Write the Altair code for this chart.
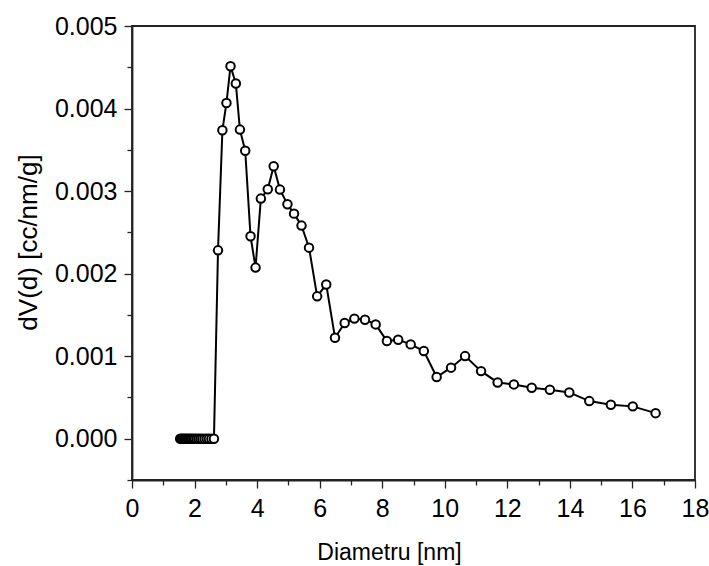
import altair as alt
import pandas as pd

# zero-valued points at small diameters
diam_zero = [1.54, 1.585, 1.63, 1.675, 1.72, 1.765, 1.81, 1.86, 1.91, 1.96, 2.01, 2.07,
             2.13, 2.19, 2.25, 2.32, 2.39, 2.46, 2.54, 2.62]
dv_zero = [0.0] * len(diam_zero)

# main distribution
diam_main = [2.75, 2.89, 3.02, 3.15, 3.32, 3.45, 3.62, 3.79, 3.95, 4.12, 4.34, 4.53, 4.73,
             4.97, 5.18, 5.42, 5.66, 5.92, 6.21, 6.49, 6.80, 7.11, 7.45, 7.79, 8.15, 8.51,
             8.91, 9.33, 9.74, 10.20, 10.65, 11.16, 11.69, 12.21, 12.78, 13.36, 13.98,
             14.62, 15.31, 16.01, 16.74]
dv_main = [0.002282, 0.003737, 0.004068, 0.004513, 0.004303, 0.003745, 0.003488, 0.002452,
           0.002073, 0.002909, 0.003022, 0.003301, 0.003018, 0.002840, 0.002727, 0.002582,
           0.002315, 0.001725, 0.001868, 0.001224, 0.001401, 0.001455, 0.001442, 0.001385,
           0.001183, 0.001200, 0.001143, 0.001062, 0.000747, 0.000861, 0.001001, 0.000819,
           0.000682, 0.000658, 0.000618, 0.000594, 0.000561, 0.000456, 0.000412, 0.000392,
           0.000310]

x_ticks = list(range(0, 19))
y_ticks = [round(-0.0005 + 0.0005 * i, 4) for i in range(12)]

df = pd.DataFrame({"d": diam_zero + diam_main, "v": dv_zero + dv_main})

FONT = "Liberation Sans"
Y_MAJOR = "abs(datum.value*1000 - round(datum.value*1000)) < 1e-6"

x_enc = alt.X(
    "d:Q",
    scale=alt.Scale(domain=[0, 18], nice=False, zero=False),
    axis=alt.Axis(
        title="Diametru [nm]",
        values=x_ticks,
        format="d",
        labelFlush=False,
        labelExpr="datum.value % 2 === 0 ? datum.label : ''",
        tickSize={"condition": {"test": "datum.value % 2 === 0", "value": 8}, "value": 5},
        labelPadding=8,
        labelFontSize=25,
        titleFontSize=23,
        titleX=257,
        titleY=79,
        titleAnchor="start",
        titleAlign="center",
        titleBaseline="alphabetic",
    ),
)
y_enc = alt.Y(
    "v:Q",
    scale=alt.Scale(domain=[-0.0005, 0.005], nice=False, zero=False),
    axis=alt.Axis(
        title="dV(d) [cc/nm/g]",
        values=y_ticks,
        format=".3f",
        labelFlush=False,
        labelExpr=Y_MAJOR + " ? datum.label : ''",
        tickSize={"condition": {"test": Y_MAJOR, "value": 8}, "value": 5},
        labelPadding=7,
        labelFontSize=25,
        titleFontSize=26,
        titleX=-104,
        titleY=216,
        titleAngle=-90,
        titleAlign="center",
        titleBaseline="middle",
        titleAnchor="start",
    ),
)

line = alt.Chart(df).mark_line(color="black", strokeWidth=2).encode(x=x_enc, y=y_enc, order="d:Q")
pts = alt.Chart(df).mark_point(
    shape="circle", filled=False, fill="white", fillOpacity=1, color="black", strokeWidth=2, size=72, opacity=1
).encode(x=x_enc, y=y_enc)

chart = (
    alt.layer(line, pts)
    .properties(
        width=563,
        height=454,
        autosize=alt.AutoSizeParams(type="none"),
        padding={"left": 132, "top": 26, "right": 14, "bottom": 86},
        background="white",
    )
    .configure_view(stroke="#222222", strokeWidth=1.8)
    .configure_axis(
        labelFont=FONT,
        titleFont=FONT,
        titleFontWeight="normal",
        labelColor="black",
        titleColor="black",
        domainColor="#222222",
        domainWidth=1.8,
        tickColor="#222222",
        tickWidth=1.3,
        grid=False,
    )
)

chart.save("out.html", embed_options={"renderer": "svg", "actions": False})
